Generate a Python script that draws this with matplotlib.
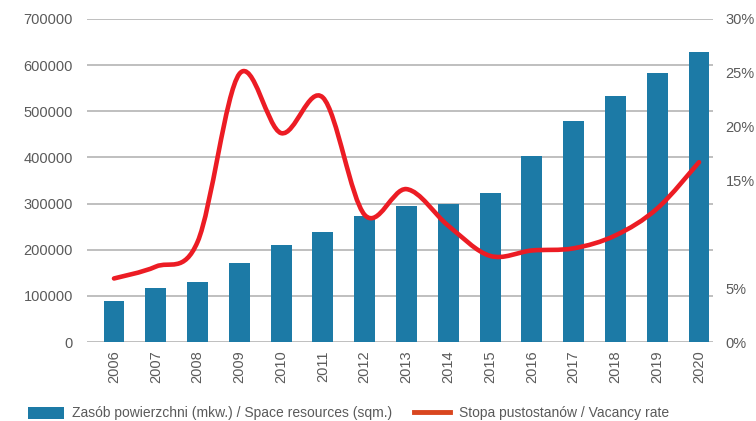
import numpy as np
import matplotlib
matplotlib.use('Agg')
import matplotlib.pyplot as plt
from matplotlib.path import Path
from matplotlib.patches import PathPatch, Patch
from matplotlib.lines import Line2D

years = ['2006', '2007', '2008', '2009', '2010', '2011', '2012', '2013',
         '2014', '2015', '2016', '2017', '2018', '2019', '2020']
zasob = [88000, 117000, 130000, 171000, 210000, 238000, 273000, 295000,
         300000, 323000, 403000, 479000, 533000, 583000, 628000]
pustostany = [5.9, 7.0, 9.3, 24.9, 19.4, 22.7, 11.8, 14.2,
              10.8, 8.0, 8.5, 8.7, 9.9, 12.4, 16.7]

left_ticks = [0, 100000, 200000, 300000, 400000, 500000, 600000, 700000]
right_ticks = [0, 5, 15, 20, 25, 30]

bar_color = '#1c7aa6'
line_color = '#ec1c24'
text_color = '#5a5a5a'
grid_color = '#b4b4b4'
font = ['Liberation Sans', 'DejaVu Sans']


def smooth_path(xs, ys):
    """Catmull-Rom -> Bezier, zeby linia byla wygladzona jak w Excelu."""
    pts = np.column_stack([xs, ys]).astype(float)
    verts = [pts[0]]
    codes = [Path.MOVETO]
    n = len(pts)
    for i in range(n - 1):
        p0 = pts[i - 1] if i > 0 else pts[i]
        p1 = pts[i]
        p2 = pts[i + 1]
        p3 = pts[i + 2] if i + 2 < n else pts[i + 1]
        c1 = p1 + (p2 - p0) / 6
        c2 = p2 - (p3 - p1) / 6
        verts += [c1, c2, p2]
        codes += [Path.CURVE4] * 3
    return Path(verts, codes)


fig = plt.figure(figsize=(7.56, 4.21), dpi=100)
ax = fig.add_axes([87 / 756, 1 - 342 / 421, (713 - 87) / 756, (342 - 19) / 421])
x = np.arange(len(years))

ax.bar(x, zasob, width=0.5, color=bar_color, zorder=2)
ax.set_xlim(-0.646, 14.335)
ax.set_ylim(0, 700000)
ax.set_yticks(left_ticks)
ax.set_yticklabels([str(v) for v in left_ticks])
ax.set_xticks(x)
ax.set_xticklabels(years, rotation=90)
ax.grid(axis='y', color=grid_color, linewidth=1.2, zorder=0)
ax.set_axisbelow(True)
for s in ax.spines.values():
    s.set_visible(False)
ax.tick_params(axis='both', length=0, colors=text_color, labelsize=10.5)
ax.tick_params(axis='y', pad=10)
ax.tick_params(axis='x', pad=6)
for lab in ax.get_xticklabels() + ax.get_yticklabels():
    lab.set_family(font)

ax2 = ax.twinx()
ax2.set_ylim(0, 30)
ax2.set_yticks(right_ticks)
ax2.set_yticklabels([f'{v}%' for v in right_ticks])
for s in ax2.spines.values():
    s.set_visible(False)
ax2.tick_params(axis='y', length=0, colors=text_color, labelsize=10.5, pad=9)
for lab in ax2.get_yticklabels():
    lab.set_family(font)

patch = PathPatch(smooth_path(x, pustostany), facecolor='none', edgecolor=line_color,
                  linewidth=3.3, capstyle='round', joinstyle='round', zorder=3)
ax2.add_patch(patch)

handles = [Patch(facecolor=bar_color), Line2D([0], [0], color='#d9461f', linewidth=3.5)]
labels = ['Zasób powierzchni (mkw.) / Space resources (sqm.)', 'Stopa pustostanów / Vacancy rate']
fig.legend(handles, labels, loc='lower left', bbox_to_anchor=(15 / 756, -0.028), ncol=2,
           frameon=False, handlelength=2.6, handleheight=0.95, handletextpad=0.6,
           columnspacing=1.6, prop={'family': font, 'size': 10}, labelcolor=text_color)

fig.savefig('out.png', dpi=100)
